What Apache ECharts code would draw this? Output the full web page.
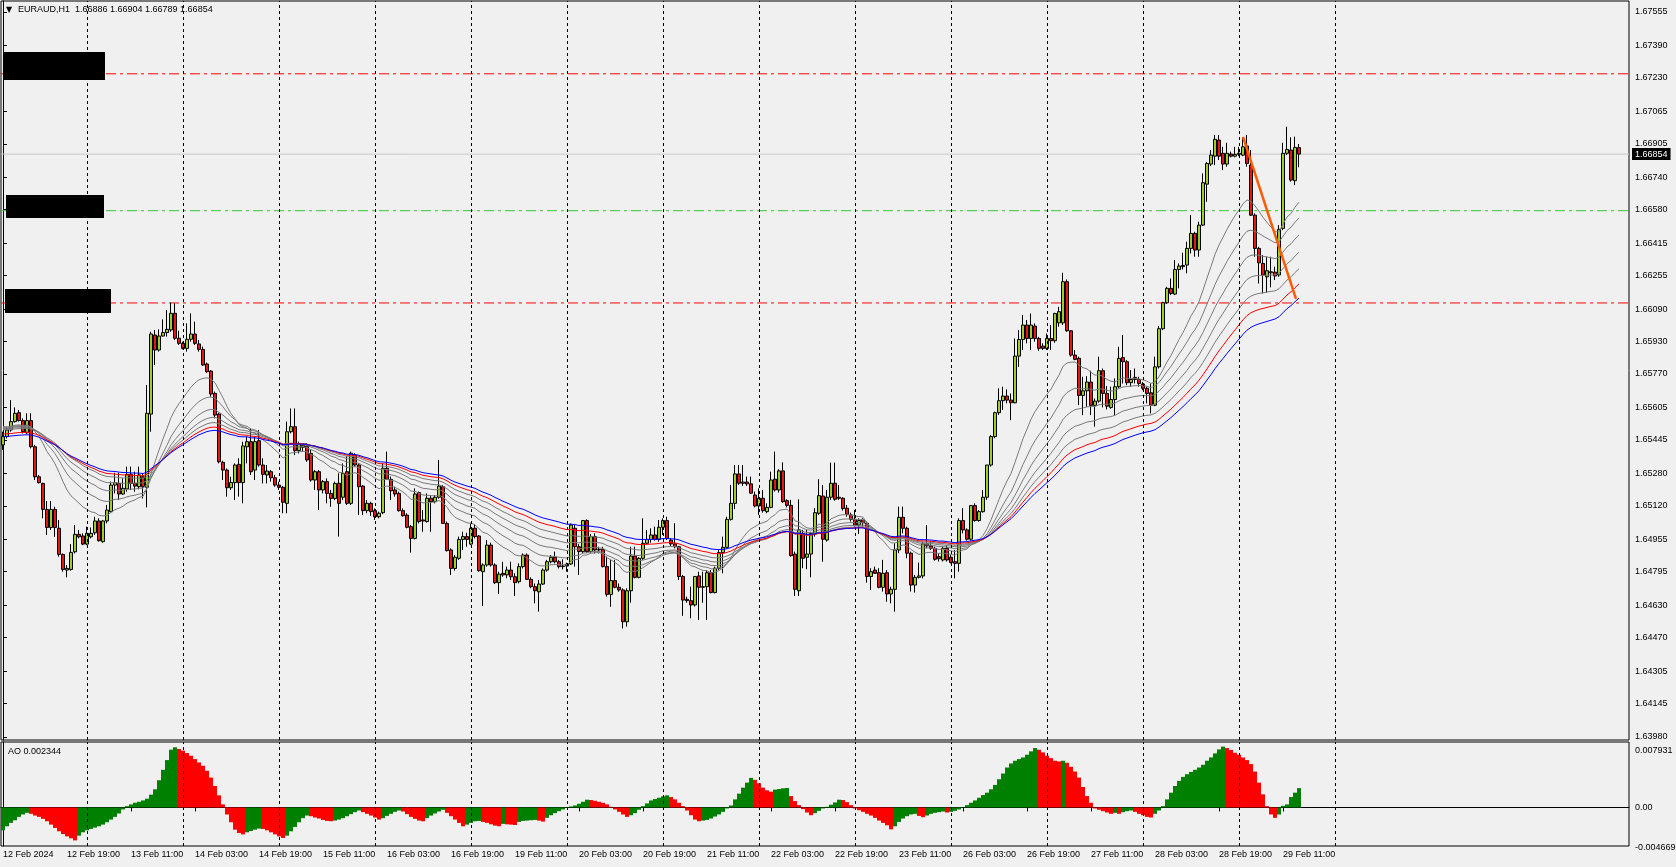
<!DOCTYPE html>
<html><head><meta charset="utf-8">
<script src="https://cdn.jsdelivr.net/npm/echarts@6/dist/echarts.min.js"></script>
<style>html,body{margin:0;padding:0;background:#f0f0f0;}#c{width:1676px;height:867px;}</style>
</head><body><div id="c"></div>
<script>
// ---------------- DATA ----------------
const symbolTitle = 'EURAUD,H1';
const headerOHLC = ['1.66886', '1.66904', '1.66789', '1.66854'];
// hourly candles, each row: [open, high, low, close]
const candles = [
[1.65420,1.65485,1.65395,1.65461],[1.65461,1.65510,1.65452,1.65494],[1.65494,1.65641,1.65485,1.65535],[1.65535,1.65605,1.65530,1.65576],
[1.65579,1.65592,1.65535,1.65540],[1.65540,1.65551,1.65477,1.65485],[1.65480,1.65576,1.65474,1.65540],[1.65540,1.65576,1.65403,1.65411],
[1.65411,1.65420,1.65247,1.65263],[1.65263,1.65272,1.65230,1.65234],[1.65230,1.65234,1.65058,1.65102],[1.65102,1.65143,1.64976,1.65013],
[1.65013,1.65143,1.65000,1.65102],[1.65102,1.65115,1.64967,1.65013],[1.65009,1.65050,1.64869,1.64880],[1.64880,1.64885,1.64795,1.64806],
[1.64803,1.64828,1.64767,1.64811],[1.64806,1.64931,1.64800,1.64890],[1.64893,1.65025,1.64885,1.64979],[1.64979,1.65000,1.64959,1.64967],
[1.64971,1.64984,1.64926,1.64931],[1.64931,1.65017,1.64926,1.64984],[1.64967,1.65013,1.64959,1.64984],[1.64987,1.65066,1.64976,1.65045],
[1.65045,1.65058,1.64943,1.64948],[1.64943,1.65050,1.64938,1.65045],[1.65045,1.65124,1.65033,1.65099],[1.65091,1.65239,1.65086,1.65222],
[1.65222,1.65283,1.65181,1.65234],[1.65230,1.65283,1.65148,1.65178],[1.65178,1.65255,1.65173,1.65206],[1.65203,1.65313,1.65189,1.65275],
[1.65275,1.65313,1.65198,1.65230],[1.65230,1.65288,1.65189,1.65217],[1.65214,1.65313,1.65201,1.65272],[1.65263,1.65280,1.65156,1.65214],
[1.65211,1.65715,1.65112,1.65576],[1.65572,1.65978,1.65485,1.65967],[1.65962,1.65987,1.65814,1.65888],[1.65888,1.65990,1.65880,1.65957],
[1.65957,1.66039,1.65954,1.65974],[1.65974,1.66085,1.65954,1.65990],[1.65987,1.66122,1.65978,1.66069],[1.66069,1.66118,1.65937,1.65946],
[1.65946,1.65983,1.65913,1.65921],[1.65921,1.65929,1.65891,1.65896],[1.65896,1.66020,1.65880,1.65941],[1.65941,1.66069,1.65929,1.65967],
[1.65967,1.66028,1.65913,1.65921],[1.65918,1.65937,1.65880,1.65891],[1.65891,1.65905,1.65809,1.65814],[1.65819,1.65826,1.65776,1.65781],
[1.65784,1.65789,1.65658,1.65671],[1.65674,1.65683,1.65551,1.65567],[1.65572,1.65579,1.65329,1.65337],[1.65334,1.65342,1.65247,1.65296],
[1.65296,1.65304,1.65165,1.65209],[1.65209,1.65263,1.65198,1.65235],[1.65234,1.65329,1.65148,1.65321],[1.65324,1.65354,1.65165,1.65234],
[1.65234,1.65436,1.65132,1.65415],[1.65411,1.65461,1.65329,1.65436],[1.65436,1.65502,1.65272,1.65288],[1.65296,1.65461,1.65247,1.65436],
[1.65441,1.65494,1.65313,1.65321],[1.65321,1.65354,1.65230,1.65275],[1.65272,1.65321,1.65230,1.65291],[1.65288,1.65296,1.65239,1.65258],
[1.65258,1.65272,1.65214,1.65222],[1.65222,1.65239,1.65198,1.65211],[1.65211,1.65217,1.65083,1.65137],[1.65132,1.65535,1.65083,1.65485],
[1.65485,1.65600,1.65477,1.65510],[1.65510,1.65600,1.65370,1.65392],[1.65392,1.65436,1.65378,1.65424],[1.65408,1.65428,1.65387,1.65418],
[1.65415,1.65428,1.65337,1.65346],[1.65378,1.65395,1.65239,1.65247],[1.65247,1.65296,1.65198,1.65288],[1.65288,1.65296,1.65099,1.65198],
[1.65198,1.65247,1.65181,1.65239],[1.65239,1.65255,1.65132,1.65181],[1.65181,1.65198,1.65115,1.65156],[1.65156,1.65239,1.65148,1.65230],
[1.65231,1.65280,1.64968,1.65132],[1.65162,1.65329,1.65148,1.65280],[1.65288,1.65362,1.65124,1.65132],[1.65132,1.65387,1.65124,1.65379],
[1.65370,1.65379,1.65313,1.65321],[1.65321,1.65329,1.65074,1.65214],[1.65217,1.65222,1.65074,1.65096],[1.65096,1.65148,1.65083,1.65132],
[1.65132,1.65140,1.65070,1.65091],[1.65096,1.65107,1.65050,1.65066],[1.65066,1.65091,1.65058,1.65083],[1.65086,1.65329,1.65079,1.65305],
[1.65305,1.65387,1.65247,1.65250],[1.65250,1.65264,1.65148,1.65194],[1.65198,1.65214,1.65165,1.65178],[1.65181,1.65190,1.65091,1.65096],
[1.65096,1.65107,1.65066,1.65071],[1.65074,1.65083,1.65009,1.65014],[1.65017,1.65025,1.64889,1.64959],[1.64959,1.65206,1.64954,1.65178],
[1.65185,1.65190,1.65033,1.65042],[1.65050,1.65099,1.64992,1.65045],[1.65042,1.65181,1.65037,1.65157],[1.65157,1.65173,1.64992,1.65140],
[1.65140,1.65173,1.65132,1.65162],[1.65162,1.65346,1.65155,1.65217],[1.65214,1.65222,1.65030,1.65033],[1.65033,1.65042,1.64894,1.64899],
[1.64902,1.64910,1.64779,1.64811],[1.64811,1.64877,1.64800,1.64866],[1.64861,1.64968,1.64853,1.64954],[1.64954,1.64992,1.64902,1.64968],
[1.64968,1.64987,1.64918,1.64954],[1.64931,1.65033,1.64926,1.65009],[1.65009,1.65030,1.64959,1.64968],[1.64971,1.64976,1.64795,1.64800],
[1.64795,1.64836,1.64626,1.64828],[1.64828,1.64951,1.64820,1.64926],[1.64926,1.64938,1.64820,1.64828],[1.64828,1.64836,1.64734,1.64741],
[1.64741,1.64795,1.64685,1.64783],[1.64787,1.64844,1.64770,1.64779],[1.64779,1.64820,1.64762,1.64803],[1.64803,1.64844,1.64754,1.64770],
[1.64770,1.64787,1.64675,1.64741],[1.64746,1.64836,1.64737,1.64820],[1.64820,1.64885,1.64811,1.64877],[1.64877,1.64885,1.64754,1.64757],
[1.64757,1.64767,1.64713,1.64721],[1.64721,1.64737,1.64639,1.64701],[1.64696,1.64754,1.64598,1.64734],[1.64734,1.64811,1.64729,1.64803],
[1.64803,1.64853,1.64795,1.64844],[1.64844,1.64877,1.64836,1.64866],[1.64866,1.64894,1.64836,1.64844],[1.64844,1.64853,1.64811,1.64820],
[1.64820,1.64856,1.64806,1.64823],[1.64823,1.64839,1.64795,1.64833],[1.64833,1.65033,1.64828,1.65025],[1.65009,1.65025,1.64820,1.64918],
[1.64918,1.64931,1.64779,1.64894],[1.64894,1.65050,1.64885,1.65047],[1.65047,1.65053,1.64889,1.64894],[1.64894,1.64981,1.64889,1.64968],
[1.64968,1.64984,1.64885,1.64902],[1.64902,1.64918,1.64885,1.64905],[1.64905,1.64918,1.64816,1.64820],[1.64820,1.64869,1.64672,1.64683],
[1.64683,1.64853,1.64622,1.64751],[1.64751,1.64853,1.64713,1.64718],[1.64718,1.64737,1.64696,1.64705],[1.64705,1.64713,1.64515,1.64548],
[1.64548,1.64713,1.64524,1.64701],[1.64701,1.64918,1.64642,1.64872],[1.64872,1.64918,1.64762,1.64767],[1.64767,1.64866,1.64762,1.64861],
[1.64861,1.65058,1.64853,1.64935],[1.64935,1.65000,1.64931,1.64954],[1.64954,1.65009,1.64938,1.64976],[1.64976,1.65017,1.64948,1.64954],
[1.64954,1.65050,1.64943,1.65014],[1.65014,1.65058,1.64976,1.65047],[1.65047,1.65066,1.64951,1.64959],[1.64951,1.64960,1.64918,1.64932],
[1.64932,1.65034,1.64910,1.64918],[1.64918,1.64922,1.64754,1.64771],[1.64771,1.64779,1.64577,1.64655],[1.64659,1.64672,1.64642,1.64652],
[1.64652,1.64721,1.64565,1.64631],[1.64631,1.64774,1.64623,1.64771],[1.64774,1.64795,1.64557,1.64718],[1.64718,1.64795,1.64642,1.64721],
[1.64721,1.64803,1.64557,1.64790],[1.64790,1.64803,1.64688,1.64692],[1.64692,1.64820,1.64688,1.64812],[1.64812,1.64902,1.64803,1.64889],
[1.64889,1.64968,1.64787,1.64915],[1.64915,1.65066,1.64910,1.65053],[1.65053,1.65223,1.65047,1.65132],[1.65132,1.65321,1.65103,1.65277],
[1.65277,1.65321,1.65223,1.65231],[1.65231,1.65321,1.65218,1.65237],[1.65237,1.65264,1.65218,1.65228],[1.65228,1.65264,1.65178,1.65182],
[1.65173,1.65190,1.65112,1.65119],[1.65119,1.65206,1.65075,1.65157],[1.65157,1.65198,1.65086,1.65096],[1.65091,1.65132,1.65083,1.65112],
[1.65112,1.65288,1.65108,1.65247],[1.65251,1.65387,1.65190,1.65198],[1.65198,1.65300,1.65185,1.65292],[1.65292,1.65334,1.65135,1.65140],
[1.65145,1.65152,1.65112,1.65122],[1.65122,1.65149,1.64869,1.64874],[1.64882,1.64894,1.64675,1.64708],[1.64701,1.65152,1.64675,1.65001],
[1.64984,1.65001,1.64812,1.64861],[1.64866,1.65001,1.64807,1.64882],[1.64882,1.64992,1.64767,1.64984],[1.64984,1.65108,1.64968,1.65086],
[1.65083,1.65251,1.65075,1.65170],[1.65168,1.65223,1.64844,1.64955],[1.64951,1.65198,1.64943,1.65162],[1.65162,1.65333,1.65149,1.65231],
[1.65231,1.65333,1.65145,1.65152],[1.65162,1.65223,1.65149,1.65157],[1.65157,1.65162,1.65096,1.65106],[1.65108,1.65124,1.65066,1.65078],
[1.65075,1.65086,1.65042,1.65053],[1.65053,1.65099,1.65017,1.65025],[1.65025,1.65058,1.64981,1.65047],[1.65050,1.65058,1.65020,1.65037],
[1.65034,1.65042,1.64741,1.64771],[1.64771,1.64812,1.64705,1.64795],[1.64803,1.64820,1.64784,1.64787],[1.64790,1.64812,1.64713,1.64718],
[1.64718,1.64853,1.64697,1.64787],[1.64790,1.64803,1.64647,1.64685],[1.64685,1.64721,1.64639,1.64708],[1.64708,1.64935,1.64598,1.64902],
[1.64902,1.65116,1.64886,1.65063],[1.65063,1.65116,1.64984,1.65009],[1.65009,1.65017,1.64861,1.64886],[1.64886,1.64894,1.64697,1.64729],
[1.64729,1.64779,1.64692,1.64767],[1.64767,1.64840,1.64762,1.64774],[1.64774,1.64943,1.64762,1.64932],[1.64932,1.65025,1.64910,1.64922],
[1.64922,1.64943,1.64902,1.64910],[1.64910,1.64918,1.64849,1.64856],[1.64869,1.64886,1.64845,1.64859],[1.64853,1.64918,1.64845,1.64910],
[1.64910,1.64927,1.64845,1.64853],[1.64866,1.64877,1.64836,1.64840],[1.64844,1.64902,1.64762,1.64836],[1.64836,1.65058,1.64795,1.65047],
[1.65047,1.65108,1.64984,1.65001],[1.65001,1.65009,1.64948,1.64955],[1.64955,1.65124,1.64948,1.65121],[1.65121,1.65132,1.65042,1.65047],
[1.65047,1.65099,1.65042,1.65091],[1.65091,1.65198,1.65086,1.65162],[1.65162,1.65321,1.65149,1.65321],[1.65321,1.65469,1.65313,1.65461],
[1.65461,1.65584,1.65453,1.65579],[1.65579,1.65699,1.65568,1.65638],[1.65638,1.65707,1.65592,1.65661],[1.65661,1.65694,1.65625,1.65641],
[1.65641,1.65674,1.65542,1.65628],[1.65628,1.65945,1.65625,1.65858],[1.65858,1.65986,1.65805,1.65940],[1.65940,1.66060,1.65888,1.66011],
[1.66011,1.66036,1.65921,1.65945],[1.65945,1.66068,1.65888,1.66011],[1.66006,1.66019,1.65929,1.65945],[1.65945,1.65953,1.65884,1.65896],
[1.65907,1.65921,1.65888,1.65896],[1.65896,1.65970,1.65888,1.65945],[1.65945,1.66011,1.65888,1.65934],[1.65934,1.66072,1.65924,1.66068],
[1.66022,1.66101,1.66003,1.66077],[1.66022,1.66269,1.66011,1.66225],[1.66225,1.66236,1.65978,1.65983],[1.65983,1.65986,1.65855,1.65863],
[1.65863,1.65888,1.65838,1.65842],[1.65847,1.65855,1.65616,1.65664],[1.65664,1.65756,1.65567,1.65687],[1.65687,1.65759,1.65608,1.65730],
[1.65730,1.65786,1.65567,1.65615],[1.65615,1.65649,1.65510,1.65636],[1.65636,1.65855,1.65628,1.65786],[1.65786,1.65797,1.65605,1.65674],
[1.65674,1.65710,1.65595,1.65611],[1.65605,1.65707,1.65598,1.65644],[1.65644,1.65748,1.65567,1.65707],[1.65707,1.65904,1.65699,1.65847],
[1.65851,1.65962,1.65723,1.65830],[1.65830,1.65838,1.65715,1.65727],[1.65727,1.65789,1.65707,1.65743],[1.65753,1.65797,1.65723,1.65743],
[1.65743,1.65756,1.65707,1.65723],[1.65720,1.65731,1.65690,1.65699],[1.65699,1.65707,1.65625,1.65674],[1.65677,1.65723,1.65575,1.65616],
[1.65616,1.65855,1.65611,1.65805],[1.65805,1.66006,1.65797,1.65993],[1.65993,1.66126,1.65986,1.66121],[1.66121,1.66200,1.66115,1.66192],
[1.66192,1.66241,1.66159,1.66167],[1.66164,1.66332,1.66159,1.66285],[1.66285,1.66315,1.66192,1.66302],[1.66299,1.66368,1.66285,1.66305],
[1.66307,1.66422,1.66266,1.66389],[1.66389,1.66553,1.66364,1.66463],[1.66463,1.66471,1.66348,1.66381],[1.66381,1.66521,1.66348,1.66504],
[1.66504,1.66759,1.66499,1.66713],[1.66706,1.66816,1.66619,1.66808],[1.66805,1.66874,1.66795,1.66849],[1.66844,1.66948,1.66800,1.66927],
[1.66923,1.66948,1.66825,1.66844],[1.66858,1.66890,1.66775,1.66805],[1.66805,1.66910,1.66792,1.66858],[1.66854,1.66866,1.66838,1.66844],
[1.66844,1.66890,1.66838,1.66853],[1.66853,1.66890,1.66844,1.66858],[1.66849,1.66937,1.66844,1.66890],[1.66894,1.66948,1.66792,1.66808],
[1.66800,1.66874,1.66549,1.66553],[1.66553,1.66562,1.66348,1.66389],[1.66389,1.66397,1.66216,1.66318],[1.66315,1.66356,1.66167,1.66258],
[1.66249,1.66348,1.66170,1.66279],[1.66269,1.66348,1.66197,1.66274],[1.66272,1.66299,1.66233,1.66253],[1.66258,1.66504,1.66249,1.66483],
[1.66488,1.66910,1.66479,1.66858],[1.66858,1.66989,1.66849,1.66877],[1.66874,1.66937,1.66718,1.66726],[1.66723,1.66940,1.66701,1.66887],
[1.66886,1.66904,1.66789,1.66854]
];
// Awesome Oscillator values, one per candle
const aoValues = [
-0.00277,-0.00228,-0.00187,-0.00155,-0.00114,-0.00085,-0.00065,-0.00077,-0.00098,-0.00114,
-0.00138,-0.00167,-0.00208,-0.00248,-0.00289,-0.00322,-0.00350,-0.00374,-0.00399,-0.00342,
-0.00301,-0.00277,-0.00260,-0.00244,-0.00228,-0.00208,-0.00179,-0.00147,-0.00114,-0.00073,
-0.00024,0.00016,0.00037,0.00057,0.00069,0.00085,0.00106,0.00155,0.00220,0.00330,
0.00456,0.00574,0.00700,0.00729,0.00708,0.00688,0.00659,0.00627,0.00586,0.00545,
0.00505,0.00444,0.00362,0.00260,0.00147,0.00037,-0.00085,-0.00179,-0.00269,-0.00309,
-0.00326,-0.00301,-0.00285,-0.00269,-0.00256,-0.00260,-0.00277,-0.00301,-0.00326,-0.00350,
-0.00370,-0.00342,-0.00289,-0.00236,-0.00179,-0.00130,-0.00098,-0.00106,-0.00122,-0.00134,
-0.00151,-0.00163,-0.00167,-0.00159,-0.00147,-0.00130,-0.00106,-0.00081,-0.00057,-0.00037,
-0.00057,-0.00077,-0.00098,-0.00122,-0.00147,-0.00130,-0.00102,-0.00077,-0.00053,-0.00037,
-0.00049,-0.00081,-0.00114,-0.00138,-0.00159,-0.00167,-0.00130,-0.00098,-0.00073,-0.00049,
-0.00028,-0.00065,-0.00106,-0.00147,-0.00187,-0.00228,-0.00208,-0.00187,-0.00167,-0.00163,
-0.00175,-0.00187,-0.00204,-0.00220,-0.00228,-0.00199,-0.00204,-0.00208,-0.00212,-0.00175,
-0.00163,-0.00159,-0.00155,-0.00151,-0.00159,-0.00171,-0.00126,-0.00094,-0.00069,-0.00045,
-0.00024,-0.00004,0.00012,0.00024,0.00045,0.00069,0.00094,0.00090,0.00081,0.00069,
0.00057,0.00037,0.00008,-0.00024,-0.00053,-0.00085,-0.00114,-0.00094,-0.00069,-0.00028,
0.00016,0.00049,0.00085,0.00102,0.00118,0.00134,0.00147,0.00126,0.00098,0.00057,
0.00016,-0.00037,-0.00094,-0.00147,-0.00167,-0.00159,-0.00151,-0.00134,-0.00110,-0.00085,
-0.00053,-0.00012,0.00024,0.00098,0.00167,0.00240,0.00301,0.00358,0.00334,0.00293,
0.00240,0.00208,0.00191,0.00216,0.00224,0.00232,0.00236,0.00138,0.00077,0.00028,
-0.00020,-0.00061,-0.00094,-0.00069,-0.00041,-0.00012,0.00008,0.00033,0.00061,0.00094,
0.00090,0.00065,0.00028,-0.00012,-0.00033,-0.00053,-0.00077,-0.00098,-0.00126,-0.00159,
-0.00187,-0.00216,-0.00265,-0.00228,-0.00175,-0.00134,-0.00106,-0.00085,-0.00077,-0.00102,
-0.00118,-0.00098,-0.00077,-0.00065,-0.00057,-0.00049,-0.00061,-0.00053,-0.00041,-0.00024,
-0.00004,0.00028,0.00057,0.00085,0.00118,0.00151,0.00179,0.00220,0.00273,0.00342,
0.00411,0.00484,0.00533,0.00566,0.00586,0.00606,0.00639,0.00680,0.00720,0.00700,
0.00667,0.00627,0.00598,0.00566,0.00558,0.00566,0.00541,0.00492,0.00435,0.00362,
0.00248,0.00138,0.00057,-0.00012,-0.00028,-0.00045,-0.00061,-0.00077,-0.00065,-0.00077,
-0.00057,-0.00045,-0.00037,-0.00053,-0.00077,-0.00094,-0.00114,-0.00122,-0.00077,-0.00037,
0.00016,0.00098,0.00179,0.00260,0.00322,0.00370,0.00403,0.00431,0.00456,0.00484,
0.00517,0.00566,0.00606,0.00655,0.00704,0.00737,0.00720,0.00696,0.00663,0.00639,
0.00606,0.00574,0.00525,0.00435,0.00301,0.00159,0.00016,-0.00085,-0.00126,-0.00085,
0.00020,0.00037,0.00126,0.00179,0.002344
];
const aoLabel = 'AO 0.002344';
// time axis labels, one every 16 bars from the first bar
const timeLabels = ['12 Feb 2024','12 Feb 19:00','13 Feb 11:00','14 Feb 03:00','14 Feb 19:00','15 Feb 11:00','16 Feb 03:00',
  '16 Feb 19:00','19 Feb 11:00','20 Feb 03:00','20 Feb 19:00','21 Feb 11:00','22 Feb 03:00','22 Feb 19:00','23 Feb 11:00',
  '26 Feb 03:00','26 Feb 19:00','27 Feb 11:00','28 Feb 03:00','28 Feb 19:00','29 Feb 11:00'];
const barsPerLabel = 16;
// bar indexes of the day separators (midnight)
const daySeparators = [21,45,69,93,117,141,165,189,213,237,261,285,309,333];
// price scale tick labels
const priceTicks = ['1.63980','1.64145','1.64305','1.64470','1.64630','1.64795','1.64955','1.65120','1.65280','1.65445',
  '1.65605','1.65770','1.65930','1.66090','1.66255','1.66415','1.66580','1.66740','1.66905','1.67065','1.67230','1.67390','1.67555'];
const aoTicks = ['0.007931', '0.00', '-0.004669'];
// horizontal levels
const levelPrices = [1.67250, 1.66575, 1.66120];
const levelColors = ['#ff0000', '#32c832', '#ff0000'];
// trend line [barIndex, price]
const trendLine = [[310, 1.66939], [323.25, 1.66140]];
// moving averages (EMA periods) and their value at the first visible bar
const maPeriods = [20, 30, 40, 50, 60, 70, 80];
const maSeeds = [1.65510, 1.65508, 1.65505, 1.65500, 1.65495, 1.65474, 1.65461];
const totalSlots = 407;

// ---------------- BUILD ----------------
const closes = candles.map(c => c[3]);
const maLines = maPeriods.map((p, k) => {
  const a = 2 / (p + 1); let v = maSeeds[k];
  return closes.map((c, i) => { if (i > 0) v = v + a * (c - v); return +v.toFixed(5); });
});
const maColors = ['#7a7a7a','#7a7a7a','#7a7a7a','#7a7a7a','#7a7a7a','#ff0000','#0000ff'];
const cats = Array.from({length: totalSlots}, (_, i) => String(i));
const lastClose = closes[closes.length - 1];
const X0 = -0.5, X1 = totalSlots - 0.5;
const FONT = 'Liberation Sans';

const chart = echarts.init(document.getElementById('c'), null, {renderer: 'canvas'});
const series = [];
// day separators (main + AO panes)
[[2, 0], [3, 1]].forEach(([xi, yi]) => series.push({
  type: 'line', xAxisIndex: xi, yAxisIndex: yi, data: [], z: 1, silent: true,
  markLine: {
    silent: true, symbol: ['none', 'none'], animation: false, label: {show: false},
    data: daySeparators.map(b => ({xAxis: b, lineStyle: {color: '#000', type: [3, 3], width: 1}}))
  }
}));
// horizontal levels
levelPrices.forEach((p, k) => series.push({
  type: 'line', xAxisIndex: 2, yAxisIndex: 0, data: [[X0, p], [X1, p]], z: 2, silent: true,
  showSymbol: false, symbol: 'none', lineStyle: {color: levelColors[k], type: [10, 4, 3, 4], width: 1}
}));
// current price line with its axis label
series.push({
  type: 'line', xAxisIndex: 2, yAxisIndex: 0, data: [[X0, lastClose], [X1, lastClose]], z: 2, silent: true,
  showSymbol: false, symbol: 'none', lineStyle: {color: '#c8c8c8', width: 1},
  endLabel: {show: true, formatter: () => lastClose.toFixed(5), backgroundColor: '#000', color: '#fff',
             fontFamily: FONT, fontSize: 9, padding: [2, 3, 1, 3], distance: 3}
});
series.push({
  type: 'candlestick', xAxisIndex: 0, yAxisIndex: 0, z: 3, barWidth: 3,
  data: candles.map(c => [c[0], c[3], c[2], c[1]]),
  itemStyle: {color: '#9acd32', color0: '#e01818', borderColor: '#000', borderColor0: '#000', borderColorDoji: '#000', borderWidth: 1}
});
maLines.forEach((d, k) => series.push({
  type: 'line', xAxisIndex: 0, yAxisIndex: 0, data: d, showSymbol: false, symbol: 'none', z: 4, silent: true,
  lineStyle: {color: maColors[k], width: 1}
}));
series.push({
  type: 'line', xAxisIndex: 2, yAxisIndex: 0, data: trendLine, showSymbol: false, symbol: 'none', z: 6, silent: true,
  lineStyle: {color: '#ff5a00', width: 2.5}
});
series.push({
  type: 'bar', xAxisIndex: 1, yAxisIndex: 1, barWidth: 4, z: 3,
  data: aoValues.map((v, i) => ({value: v, itemStyle: {color: (i === 0 || v >= aoValues[i - 1]) ? '#008000' : '#ff0000'}}))
});

const GRID_L = 1, GRID_W = 1628;
chart.setOption({
  animation: false,
  backgroundColor: '#f0f0f0',
  textStyle: {fontFamily: FONT},
  grid: [
    {left: GRID_L, width: GRID_W, top: 1, height: 739, show: true, borderColor: '#000', borderWidth: 1, backgroundColor: 'transparent'},
    {left: GRID_L, width: GRID_W, top: 742, height: 104, show: true, borderColor: '#000', borderWidth: 1, backgroundColor: 'transparent'}
  ],
  xAxis: [
    {type: 'category', gridIndex: 0, data: cats, boundaryGap: true, show: false},
    {type: 'category', gridIndex: 1, data: cats, boundaryGap: true,
     axisLine: {show: true, lineStyle: {color: '#000', width: 1}},
     axisTick: {show: true, alignWithLabel: true, length: 4, lineStyle: {color: '#000'},
                interval: (i) => i % barsPerLabel === 0 && i / barsPerLabel < timeLabels.length},
     axisLabel: {show: true, interval: (i) => i % barsPerLabel === 0 && i / barsPerLabel < timeLabels.length,
                 formatter: (v, i) => timeLabels[Math.round(i / barsPerLabel)] || '',
                 align: 'left', margin: 4, color: '#000', fontFamily: FONT, fontSize: 9},
     splitLine: {show: false}},
    {type: 'value', gridIndex: 0, min: X0, max: X1, show: false},
    {type: 'value', gridIndex: 1, min: X0, max: X1, show: false}
  ],
  yAxis: [
    {type: 'value', gridIndex: 0, position: 'right', min: 1.63965, max: 1.67609, scale: true,
     axisLine: {show: true, lineStyle: {color: '#000'}},
     axisTick: {show: true, length: 4, lineStyle: {color: '#000'}, customValues: priceTicks.map(Number)},
     axisLabel: {show: true, customValues: priceTicks.map(Number), formatter: (v) => Number(v).toFixed(5),
                 color: '#000', fontFamily: FONT, fontSize: 9, margin: 6},
     splitLine: {show: false}},
    {type: 'value', gridIndex: 1, position: 'right', min: -0.004669, max: 0.007931,
     axisLine: {show: true, lineStyle: {color: '#000'}},
     axisTick: {show: true, length: 3, lineStyle: {color: '#000'}, customValues: [0]},
     axisLabel: {show: false}, splitLine: {show: false}}
  ],
  series: series,
  graphic: [
    {type: 'rect', shape: {x: 3, y: 52, width: 102, height: 28}, style: {fill: '#000'}, z: 100},
    {type: 'rect', shape: {x: 6, y: 195, width: 98, height: 23}, style: {fill: '#000'}, z: 100},
    {type: 'rect', shape: {x: 5, y: 289, width: 106, height: 24}, style: {fill: '#000'}, z: 100},
    {type: 'text', x: 6, y: 10, style: {text: '\u25BC', fill: '#000', font: '8px "DejaVu Sans"', verticalAlign: 'middle'}, z: 100},
    {type: 'text', x: 18, y: 10, style: {text: symbolTitle + '  ' + headerOHLC.join(' '), fill: '#000', font: '9px "' + FONT + '"', verticalAlign: 'middle'}, z: 100},
    {type: 'text', x: 8, y: 752, style: {text: aoLabel, fill: '#000', font: '9px "' + FONT + '"', verticalAlign: 'middle'}, z: 100},
    {type: 'text', x: 1635, y: 751, style: {text: aoTicks[0], fill: '#000', font: '9px "' + FONT + '"', verticalAlign: 'middle'}, z: 100},
    {type: 'text', x: 1635, y: 808, style: {text: aoTicks[1], fill: '#000', font: '9px "' + FONT + '"', verticalAlign: 'middle'}, z: 100},
    {type: 'text', x: 1635, y: 848, style: {text: aoTicks[2], fill: '#000', font: '9px "' + FONT + '"', verticalAlign: 'middle'}, z: 100}
  ]
});
</script></body></html>
